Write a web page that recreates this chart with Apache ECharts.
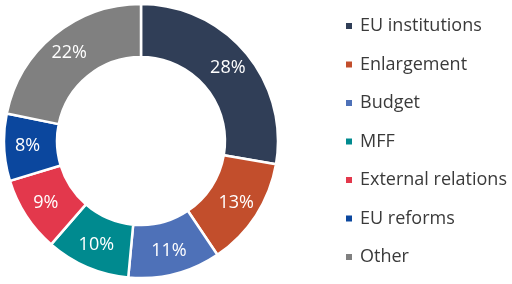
<!DOCTYPE html>
<html><head><meta charset="utf-8">
<script src="https://cdn.jsdelivr.net/npm/echarts@6/dist/echarts.min.js"></script>
<style>html,body{margin:0;padding:0;background:#fff}#c{width:512px;height:284px}</style>
</head><body><div id="c"></div>
<script>
const categories = ["EU institutions","Enlargement","Budget","MFF","External relations","EU reforms","Other"];
const values = [28,13,11,10,9,8,22];
const colors = ["#303E57","#C24E2C","#4E71B8","#008A8F","#E3384C","#0B479E","#808080"];
const chart = echarts.init(document.getElementById('c'));
chart.setOption({
  animation:false,
  color: colors,
  legend:{
    orient:'vertical', left:339, top:10,
    itemWidth:8, itemHeight:8, itemGap:16.5,
    icon:'rect',
    textStyle:{fontFamily:'Open Sans', fontSize:18, color:'#3a3a3a', lineHeight:22, padding:[0,0,0,2]},
    data: categories
  },
  series:[{
    type:'pie',
    center:[141,141],
    radius:[84,137],
    startAngle:90,
    clockwise:true,
    avoidLabelOverlap:false,
    itemStyle:{borderColor:'#fff', borderWidth:2.5},
    label:{show:true, position:'inside', formatter:'{c}%', color:'#fff', fontFamily:'Open Sans', fontSize:18},
    labelLine:{show:false},
    data: categories.map((n,i)=>({name:n, value:values[i]}))
  }]
});
</script></body></html>
